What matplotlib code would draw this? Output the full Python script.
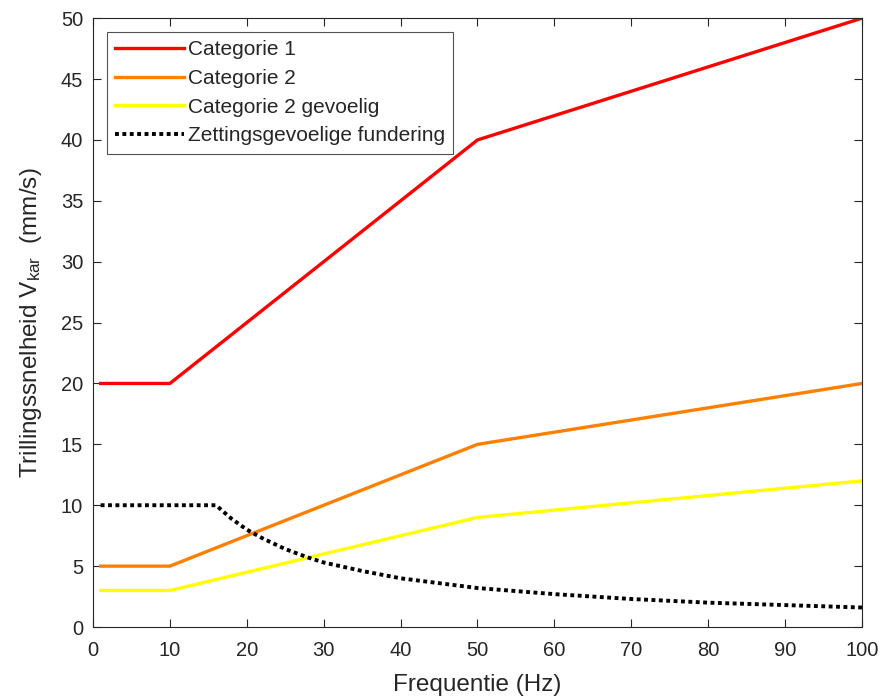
import numpy as np
import matplotlib
matplotlib.use("Agg")
import matplotlib.pyplot as plt

plt.rcParams['font.family'] = ['Liberation Sans', 'DejaVu Sans']
plt.rcParams['mathtext.fontset'] = 'custom'
plt.rcParams['mathtext.rm'] = 'Liberation Sans'
plt.rcParams['mathtext.it'] = 'Liberation Sans'

# data
freq_cat = [1, 10, 50, 100]
cat1 = [20, 20, 40, 50]
cat2 = [5, 5, 15, 20]
cat2_gev = [3, 3, 9, 12]

freq_zet = [1, 16, 18, 20, 22, 25, 28, 30, 35, 40, 45, 50, 60, 70, 80, 90, 100]
zet = [10, 10, 8.9, 8.0, 7.3, 6.4, 5.7, 5.3, 4.6, 4.0, 3.6, 3.2, 2.7, 2.3, 2.0, 1.8, 1.6]

labels = ['Categorie 1', 'Categorie 2', 'Categorie 2 gevoelig', 'Zettingsgevoelige fundering']

fig = plt.figure(figsize=(8.82, 6.99), dpi=100)
ax = fig.add_axes([0.1054, 0.103, 0.8719, 0.871])

ax.plot(freq_cat, cat1, color='#ff0000', lw=2.4, label=labels[0])
ax.plot(freq_cat, cat2, color='#ff8000', lw=2.4, label=labels[1])
ax.plot(freq_cat, cat2_gev, color='#ffff00', lw=2.4, label=labels[2])
ax.plot(freq_zet, zet, color='black', lw=2.8, ls=(0, (1, 0.9)), label=labels[3])

ax.set_xlim(0, 100)
ax.set_ylim(0, 50)
ax.set_xticks(np.arange(0, 101, 10))
ax.set_yticks(np.arange(0, 51, 5))

grey = '#262626'
ax.tick_params(direction='in', top=True, right=True, length=6, width=0.8,
               labelsize=14.5, colors=grey)
ax.tick_params(axis='x', pad=10)
ax.tick_params(axis='y', pad=7)
for s in ax.spines.values():
    s.set_color(grey)
    s.set_linewidth(0.8)

ax.set_xlabel('Frequentie (Hz)', fontsize=17.5, color=grey, labelpad=10)
ax.set_ylabel('Trillingssnelheid V$_{\\mathrm{kar}}$  (mm/s)', fontsize=17.5, color=grey, labelpad=12)

leg = ax.legend(loc='upper left', fontsize=15, frameon=True, fancybox=False,
                edgecolor=grey, handlelength=3.3, handletextpad=0.2,
                borderaxespad=0.65, labelspacing=0.47, borderpad=0.4)
leg.get_frame().set_linewidth(0.8)
for t in leg.get_texts():
    t.set_color(grey)

fig.savefig('out.png', dpi=100)
